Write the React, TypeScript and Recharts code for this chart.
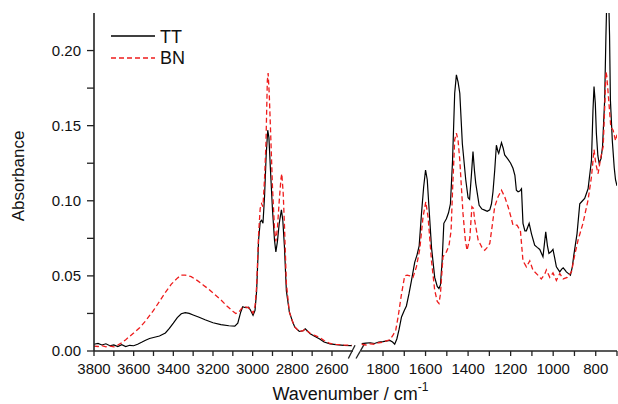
import React from 'react';
import { LineChart, Line, XAxis, YAxis, ReferenceLine, Legend } from 'recharts';

// ---------- data (wavenumber in cm-1, absorbance) ----------
const ttLeftWn = [3800, 3780, 3760, 3740, 3720, 3700, 3680, 3660, 3640, 3620, 3600, 3580, 3560, 3540, 3520, 3500, 3470, 3440, 3420, 3400, 3380, 3360, 3340, 3320, 3300, 3270, 3240, 3200, 3160, 3120, 3090, 3075, 3060, 3050, 3040, 3030, 3020, 3010, 2998, 2988, 2980, 2970, 2962, 2955, 2948, 2940, 2932, 2924, 2918, 2910, 2900, 2890, 2883, 2875, 2866, 2855, 2848, 2840, 2830, 2815, 2800, 2788, 2765, 2745, 2735, 2725, 2710, 2690, 2662, 2640, 2610, 2580, 2540, 2500];
const ttLeftAbs = [0.0045, 0.005, 0.004, 0.0048, 0.0035, 0.004, 0.003, 0.0042, 0.003, 0.0038, 0.0035, 0.0045, 0.0058, 0.0072, 0.0083, 0.009, 0.01, 0.012, 0.015, 0.0185, 0.0222, 0.0248, 0.0255, 0.025, 0.024, 0.0225, 0.0208, 0.0188, 0.0176, 0.0168, 0.0166, 0.0185, 0.026, 0.0295, 0.029, 0.0288, 0.0292, 0.027, 0.0238, 0.027, 0.04, 0.074, 0.086, 0.087, 0.085, 0.103, 0.13, 0.147, 0.142, 0.12, 0.094, 0.074, 0.066, 0.073, 0.085, 0.094, 0.087, 0.07, 0.04, 0.026, 0.02, 0.016, 0.013, 0.0135, 0.0148, 0.0135, 0.0115, 0.01, 0.008, 0.006, 0.0048, 0.0042, 0.0038, 0.0036];

const bnLeftWn = [3800, 3780, 3760, 3740, 3720, 3700, 3680, 3660, 3640, 3620, 3600, 3570, 3540, 3500, 3470, 3440, 3410, 3380, 3360, 3340, 3310, 3280, 3250, 3220, 3190, 3160, 3130, 3100, 3085, 3070, 3055, 3040, 3025, 3010, 2998, 2988, 2980, 2970, 2962, 2955, 2948, 2940, 2933, 2926, 2922, 2916, 2908, 2900, 2890, 2883, 2875, 2866, 2857, 2853, 2846, 2840, 2830, 2815, 2800, 2788, 2765, 2745, 2735, 2725, 2710, 2690, 2662, 2640, 2610, 2580, 2540, 2500];
const bnLeftAbs = [0.0033, 0.003, 0.0035, 0.0028, 0.0032, 0.0027, 0.004, 0.0055, 0.0075, 0.0098, 0.012, 0.0155, 0.02, 0.027, 0.033, 0.039, 0.0445, 0.0485, 0.0505, 0.0505, 0.0495, 0.047, 0.044, 0.041, 0.0375, 0.034, 0.03, 0.0265, 0.025, 0.0258, 0.0285, 0.0295, 0.029, 0.0275, 0.0252, 0.03, 0.043, 0.078, 0.095, 0.098, 0.096, 0.115, 0.138, 0.18, 0.185, 0.17, 0.14, 0.109, 0.082, 0.073, 0.082, 0.1, 0.115, 0.118, 0.105, 0.085, 0.045, 0.026, 0.02, 0.016, 0.013, 0.0135, 0.0147, 0.0133, 0.0118, 0.0105, 0.009, 0.007, 0.005, 0.0044, 0.004, 0.0038];

const ttRightWn = [1900, 1880, 1860, 1840, 1820, 1800, 1780, 1768, 1755, 1745, 1735, 1725, 1713, 1700, 1690, 1678, 1666, 1651, 1640, 1630, 1619, 1609, 1600, 1592, 1585, 1572, 1557, 1545, 1537, 1530, 1522, 1514, 1502, 1492, 1483, 1473, 1463, 1455, 1447, 1439, 1427, 1411, 1400, 1393, 1385, 1377, 1370, 1364, 1348, 1335, 1322, 1310, 1298, 1290, 1283, 1275, 1267, 1260, 1256, 1243, 1235, 1228, 1212, 1200, 1189, 1180, 1173, 1165, 1157, 1149, 1142, 1133, 1126, 1113, 1102, 1087, 1075, 1063, 1048, 1035, 1027, 1020, 1010, 1001, 993, 985, 969, 960, 953, 945, 938, 928, 919, 910, 903, 888, 875, 862, 852, 836, 820, 813, 808, 802, 797, 790, 784, 775, 768, 758, 752, 747, 740, 735, 731, 722, 713, 707, 700];
const ttRightAbs = [0.0049, 0.0052, 0.0055, 0.005, 0.006, 0.0063, 0.0068, 0.007, 0.006, 0.0045, 0.008, 0.014, 0.0227, 0.027, 0.03, 0.038, 0.047, 0.059, 0.064, 0.07, 0.0916, 0.109, 0.1205, 0.114, 0.098, 0.069, 0.049, 0.043, 0.0416, 0.044, 0.06, 0.085, 0.088, 0.092, 0.098, 0.127, 0.1716, 0.1838, 0.179, 0.1716, 0.138, 0.114, 0.102, 0.101, 0.116, 0.1327, 0.12, 0.1116, 0.097, 0.0945, 0.0938, 0.093, 0.094, 0.098, 0.106, 0.12, 0.137, 0.133, 0.1316, 0.1387, 0.135, 0.1305, 0.1276, 0.125, 0.1216, 0.117, 0.107, 0.106, 0.1065, 0.108, 0.085, 0.08, 0.08, 0.085, 0.078, 0.0705, 0.069, 0.0676, 0.0627, 0.0793, 0.07, 0.065, 0.066, 0.0676, 0.062, 0.056, 0.0527, 0.0545, 0.0553, 0.054, 0.0527, 0.0515, 0.0505, 0.056, 0.0638, 0.078, 0.098, 0.1, 0.1016, 0.108, 0.127, 0.16, 0.176, 0.165, 0.145, 0.13, 0.125, 0.128, 0.136, 0.167, 0.21, 0.24, 0.24, 0.21, 0.167, 0.14, 0.122, 0.114, 0.11];

const bnRightWn = [1900, 1880, 1860, 1840, 1820, 1800, 1784, 1768, 1753, 1740, 1729, 1713, 1698, 1686, 1674, 1659, 1643, 1627, 1612, 1599, 1588, 1572, 1557, 1545, 1537, 1530, 1518, 1502, 1490, 1480, 1473, 1463, 1455, 1447, 1439, 1424, 1413, 1405, 1392, 1382, 1375, 1369, 1353, 1335, 1322, 1310, 1298, 1287, 1275, 1259, 1243, 1228, 1212, 1200, 1189, 1170, 1154, 1142, 1126, 1110, 1095, 1072, 1056, 1040, 1032, 1016, 1001, 985, 969, 953, 934, 914, 899, 883, 860, 836, 820, 808, 800, 789, 776, 765, 757, 752, 748, 739, 729, 718, 707, 700];
const bnRightAbs = [0.0045, 0.004, 0.0048, 0.0045, 0.0055, 0.0058, 0.0067, 0.0075, 0.0105, 0.014, 0.0227, 0.038, 0.05, 0.0505, 0.05, 0.049, 0.056, 0.068, 0.089, 0.0993, 0.089, 0.06, 0.0405, 0.033, 0.0316, 0.038, 0.0627, 0.066, 0.07, 0.08, 0.107, 0.1405, 0.145, 0.14, 0.127, 0.0916, 0.074, 0.067, 0.075, 0.096, 0.095, 0.087, 0.074, 0.069, 0.067, 0.069, 0.0716, 0.083, 0.096, 0.1027, 0.107, 0.1027, 0.096, 0.09, 0.0838, 0.0838, 0.08, 0.06, 0.056, 0.06, 0.0538, 0.0505, 0.048, 0.051, 0.054, 0.049, 0.052, 0.047, 0.0516, 0.048, 0.049, 0.0527, 0.0638, 0.0738, 0.085, 0.1005, 0.116, 0.134, 0.125, 0.118, 0.129, 0.136, 0.165, 0.186, 0.183, 0.167, 0.149, 0.147, 0.14, 0.144];

const xTickWn = [3800, 3700, 3600, 3500, 3400, 3300, 3200, 3100, 3000, 2900, 2800, 2700, 2600, 1800, 1700, 1600, 1500, 1400, 1300, 1200, 1100, 1000, 900, 800, 700];
const yTicks = [0, 0.025, 0.05, 0.075, 0.1, 0.125, 0.15, 0.175, 0.2];

// ---------- broken-axis mapping ----------
const LEFT_HI = 3800;
const LEFT_LO = 2500;
const RIGHT_HI = 1900;
const RIGHT_LO = 700;
const LEFT_SCALE = 0.1983;
const RIGHT_SCALE = 0.2127;
const RIGHT_OFFSET = 267.7;
const toU = (w: number) =>
  w >= 2200 ? (LEFT_HI - w) * LEFT_SCALE : RIGHT_OFFSET + (RIGHT_HI - w) * RIGHT_SCALE;
const U_MAX = toU(RIGHT_LO);
const GAP_U = (toU(LEFT_LO) + toU(RIGHT_HI)) / 2;

const buildSeries = (lw: number[], la: number[], rw: number[], ra: number[]) => [
  ...lw.map((w, i) => ({ u: toU(w), v: la[i] })),
  { u: GAP_U, v: null },
  ...rw.map((w, i) => ({ u: toU(w), v: ra[i] })),
];

const ttData = buildSeries(ttLeftWn, ttLeftAbs, ttRightWn, ttRightAbs);
const bnData = buildSeries(bnLeftWn, bnLeftAbs, bnRightWn, bnRightAbs);

const xTicks = xTickWn.map(toU);
const uToWn = new Map(xTickWn.map((w) => [toU(w).toFixed(4), w]));

const AXIS = '#222';
const RED = '#ee1c1c';

const xTickFmt = (u: number) => {
  const w = uToWn.get(u.toFixed(4));
  return w !== undefined && w % 200 === 0 ? String(w) : '';
};
const yTickFmt = (v: number) =>
  Math.abs(v * 20 - Math.round(v * 20)) < 1e-6 ? v.toFixed(2) : '';

const LegendBox = () => (
  <svg width={90} height={50}>
    <line x1={6} y1={16} x2={50} y2={16} stroke="#000" strokeWidth={1.3} />
    <text x={55} y={22.5} fontSize={18} fill="#111">TT</text>
    <line x1={6} y1={38} x2={50} y2={38} stroke={RED} strokeWidth={1.3} strokeDasharray="5 3" />
    <text x={55} y={44} fontSize={18} fill="#111">BN</text>
  </svg>
);

const XTitle = (props: any) => {
  const vb = props.viewBox || { x: 94, y: 351, width: 523, height: 53 };
  return (
    <text x={vb.x + vb.width / 2 - 5} y={vb.y + 49} textAnchor="middle" fontSize={18} fill="#111">
      Wavenumber / cm
      <tspan dy={-9} fontSize={12}>-1</tspan>
    </text>
  );
};

const YTitle = (props: any) => {
  const vb = props.viewBox || { x: 0, y: 13, width: 94, height: 338 };
  const cx = vb.x + 24;
  const cy = vb.y + vb.height / 2 - 6;
  return (
    <text x={cx} y={cy} transform={`rotate(-90, ${cx}, ${cy})`} textAnchor="middle" fontSize={17} fill="#111">
      Absorbance
    </text>
  );
};

export default function App() {
  return (
    <div
      style={{
        position: 'absolute',
        left: 0,
        top: 0,
        width: 618,
        height: 404,
        background: '#fff',
        fontFamily: '"Liberation Sans", Arial, sans-serif',
      }}
    >
      <LineChart width={618} height={404} margin={{ top: 13, right: 1, left: 0, bottom: 0 }}>
        <XAxis
          dataKey="u"
          type="number"
          domain={[0, U_MAX]}
          allowDataOverflow
          ticks={xTicks}
          interval={0}
          tickFormatter={xTickFmt}
          height={53}
          tickSize={5}
          tickMargin={7}
          axisLine={false}
          tickLine={{ stroke: AXIS, strokeWidth: 1.3 }}
          tick={{ fontSize: 15, fill: '#111' }}
          label={<XTitle />}
        />
        <YAxis
          type="number"
          domain={[0, 0.225]}
          allowDataOverflow
          ticks={yTicks}
          interval={0}
          tickFormatter={yTickFmt}
          width={94}
          tickSize={7}
          tickMargin={6}
          axisLine={{ stroke: AXIS, strokeWidth: 1.6 }}
          tickLine={{ stroke: AXIS, strokeWidth: 1.3 }}
          tick={{ fontSize: 15, fill: '#111' }}
          label={<YTitle />}
        />
        <ReferenceLine
          segment={[{ x: 0, y: 0 }, { x: 259, y: 0 }]}
          stroke={AXIS}
          strokeWidth={1.6}
          ifOverflow="visible"
        />
        <ReferenceLine
          segment={[{ x: 267, y: 0 }, { x: U_MAX, y: 0 }]}
          stroke={AXIS}
          strokeWidth={1.6}
          ifOverflow="visible"
        />
        <ReferenceLine
          segment={[{ x: 254.3, y: -0.005 }, { x: 261, y: 0.0038 }]}
          stroke={AXIS}
          strokeWidth={1.3}
          ifOverflow="visible"
        />
        <ReferenceLine
          segment={[{ x: 262, y: -0.005 }, { x: 270, y: 0.0042 }]}
          stroke={AXIS}
          strokeWidth={1.3}
          ifOverflow="visible"
        />
        <Line
          data={ttData}
          dataKey="v"
          type="linear"
          stroke="#000"
          strokeWidth={1.2}
          dot={false}
          activeDot={false}
          connectNulls={false}
          isAnimationActive={false}
          name="TT"
        />
        <Line
          data={bnData}
          dataKey="v"
          type="linear"
          stroke={RED}
          strokeWidth={1.3}
          strokeDasharray="5 3"
          dot={false}
          activeDot={false}
          connectNulls={false}
          isAnimationActive={false}
          name="BN"
        />
        <Legend
          layout="vertical"
          align="center"
          verticalAlign="middle"
          wrapperStyle={{ left: 105, top: 20, width: 90, height: 50 }}
          content={() => <LegendBox />}
        />
      </LineChart>
    </div>
  );
}
